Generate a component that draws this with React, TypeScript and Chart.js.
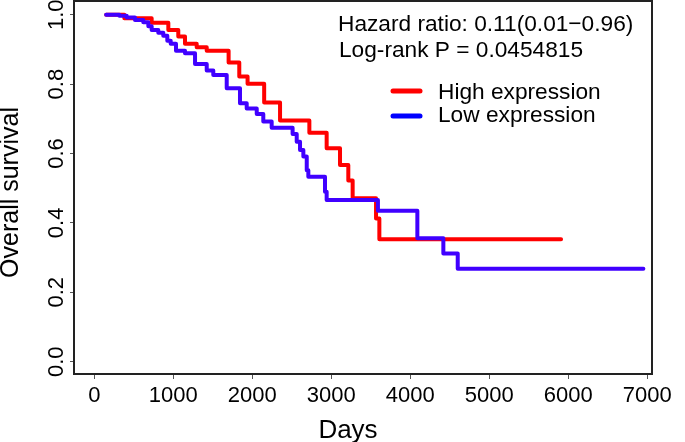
import React, { useEffect, useRef } from 'react';
import { Chart, registerables } from 'chart.js';

Chart.register(...registerables);

// ---- data ----
const highDays = [150, 380, 726, 937, 1063, 1148, 1296, 1423, 1700, 1835, 1940, 2150, 2351, 2722, 2941, 3110, 3215, 3270, 3566, 3608, 5908];
const highSurv = [1.0, 0.99, 0.977, 0.956, 0.937, 0.916, 0.906, 0.896, 0.862, 0.822, 0.801, 0.747, 0.695, 0.66, 0.615, 0.567, 0.522, 0.471, 0.413, 0.353, 0.353];

const lowDays = [150, 317, 410, 515, 620, 684, 726, 810, 873, 924, 967, 1034, 1148, 1275, 1423, 1506, 1676, 1844, 1929, 2056, 2139, 2245, 2510, 2562, 2604, 2646, 2689, 2709, 2920, 2941, 3590, 4089, 4418, 4600, 6950];
const lowSurv = [1.0, 0.997, 0.992, 0.985, 0.978, 0.967, 0.956, 0.948, 0.939, 0.925, 0.916, 0.896, 0.889, 0.858, 0.839, 0.826, 0.788, 0.745, 0.73, 0.714, 0.692, 0.674, 0.656, 0.634, 0.61, 0.591, 0.552, 0.533, 0.49, 0.466, 0.435, 0.356, 0.312, 0.268, 0.268];

const xTickValues = [0, 1000, 2000, 3000, 4000, 5000, 6000, 7000];
const yTickValues = [0, 0.2, 0.4, 0.6, 0.8, 1.0];
const yTickLabels = ['0.0', '0.2', '0.4', '0.6', '0.8', '1.0'];

const seriesNames = ['High expression', 'Low expression'];
const annotationLines = ['Hazard ratio: 0.11(0.01\u22120.96)', 'Log-rank P = 0.0454815'];
const xTitle = 'Days';
const yTitle = 'Overall survival';

const RED = '#ff0000';
const BLUE = '#4000ff';
const LEGEND_BLUE = '#0000ff';
const FONT = '"Liberation Sans", Arial, Helvetica, sans-serif';

const decorPlugin = {
  id: 'decor',
  afterDraw(chart: any) {
    const { ctx, chartArea, scales } = chart;
    const { left, top, right, bottom } = chartArea;
    ctx.save();
    // box
    ctx.strokeStyle = '#222';
    ctx.lineWidth = 2;
    ctx.strokeRect(left, top, right - left, bottom - top);

    // y tick labels (rotated, R style)
    ctx.fillStyle = '#000';
    ctx.font = `22px ${FONT}`;
    ctx.textAlign = 'center';
    ctx.textBaseline = 'middle';
    yTickValues.forEach((v, i) => {
      const y = scales.y.getPixelForValue(v);
      ctx.save();
      ctx.translate(left - 17, y);
      ctx.rotate(-Math.PI / 2);
      ctx.fillText(yTickLabels[i], 0, 0);
      ctx.restore();
    });

    // y title
    ctx.font = `25px ${FONT}`;
    ctx.save();
    ctx.translate(left - 63, (top + bottom) / 2 + 5);
    ctx.rotate(-Math.PI / 2);
    ctx.fillText(yTitle, 0, 0);
    ctx.restore();

    // x title
    ctx.font = `26px ${FONT}`;
    ctx.textBaseline = 'alphabetic';
    ctx.fillText(xTitle, 348, 438);

    // annotation
    ctx.font = `22.7px ${FONT}`;
    ctx.textAlign = 'left';
    ctx.fillText(annotationLines[0], 338, 30.5);
    ctx.fillText(annotationLines[1], 339, 56.5);

    // legend
    const legendColors = [RED, LEGEND_BLUE];
    const ly = [91, 116];
    const ty = [99, 122];
    ctx.lineCap = 'round';
    ctx.lineWidth = 5;
    seriesNames.forEach((name, i) => {
      ctx.strokeStyle = legendColors[i];
      ctx.beginPath();
      ctx.moveTo(393, ly[i]);
      ctx.lineTo(420, ly[i]);
      ctx.stroke();
      ctx.fillText(name, 438, ty[i]);
    });
    ctx.restore();
  },
};

export default function App() {
  const ref = useRef<HTMLCanvasElement | null>(null);

  useEffect(() => {
    if (!ref.current) return;
    const chart = new Chart(ref.current, {
      type: 'line',
      data: {
        datasets: [
          {
            label: seriesNames[0],
            data: highDays.map((d, i) => ({ x: d, y: highSurv[i] })),
            borderColor: RED,
            borderWidth: 4,
            stepped: true,
            pointRadius: 0,
            fill: false,
            order: 1,
            borderCapStyle: 'round',
            borderJoinStyle: 'round',
          },
          {
            label: seriesNames[1],
            data: lowDays.map((d, i) => ({ x: d, y: lowSurv[i] })),
            borderColor: BLUE,
            borderWidth: 4,
            stepped: true,
            pointRadius: 0,
            fill: false,
            order: 0,
            borderCapStyle: 'round',
            borderJoinStyle: 'round',
          },
        ],
      },
      options: {
        responsive: false,
        animation: false,
        devicePixelRatio: 1,
        layout: { padding: { left: 0, right: 33, top: 1, bottom: 0 } },
        plugins: { legend: { display: false }, tooltip: { enabled: false } },
        scales: {
          x: {
            type: 'linear',
            min: -257,
            max: 7059,
            afterBuildTicks: (s: any) => {
              s.ticks = xTickValues.map((v) => ({ value: v }));
            },
            afterFit: (s: any) => {
              s.height = 68;
            },
            ticks: {
              color: '#000',
              font: { family: FONT, size: 22 },
              padding: 4,
              maxRotation: 0,
              minRotation: 0,
              autoSkip: false,
              callback: (v: any) => String(v),
            },
            grid: { drawOnChartArea: false, drawTicks: true, tickLength: 5, color: '#555' },
            border: { display: false },
          },
          y: {
            type: 'linear',
            min: -0.0355,
            max: 1.0395,
            afterBuildTicks: (s: any) => {
              s.ticks = yTickValues.map((v) => ({ value: v }));
            },
            afterFit: (s: any) => {
              s.width = 74;
            },
            ticks: { display: false },
            grid: { drawOnChartArea: false, drawTicks: true, tickLength: 4, color: '#555' },
            border: { display: false },
          },
        },
      },
      plugins: [decorPlugin],
    } as any);
    return () => chart.destroy();
  }, []);

  return (
    <div style={{ position: 'fixed', left: 0, top: 0, width: 685, height: 442, background: '#fff' }}>
      <canvas ref={ref} width={685} height={442} />
    </div>
  );
}
